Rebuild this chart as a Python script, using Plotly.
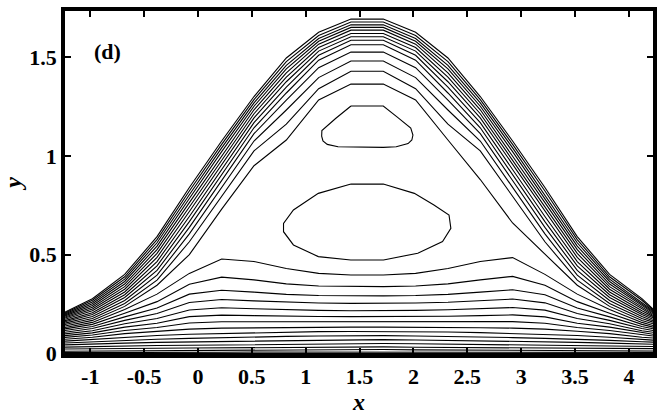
import plotly.graph_objects as go

# x positions shared by every open streamline
x_stations = [-1.234, -0.98, -0.68, -0.38, -0.08, 0.22, 0.52, 0.82, 1.12, 1.42,
              1.72, 2.02, 2.32, 2.62, 2.92, 3.22, 3.52, 3.82, 4.12, 4.223]

# streamlines passing over the crest, outermost (free surface) first
upper_streamlines = [
    [0.209, 0.277, 0.400, 0.591, 0.840, 1.075, 1.300, 1.495, 1.625, 1.692, 1.692, 1.625, 1.495, 1.300, 1.075, 0.840, 0.591, 0.400, 0.277, 0.225],
    [0.205, 0.269, 0.388, 0.576, 0.822, 1.058, 1.284, 1.477, 1.609, 1.677, 1.677, 1.609, 1.477, 1.284, 1.058, 0.822, 0.576, 0.388, 0.269, 0.221],
    [0.200, 0.260, 0.376, 0.560, 0.803, 1.040, 1.268, 1.458, 1.594, 1.663, 1.663, 1.594, 1.458, 1.268, 1.040, 0.803, 0.560, 0.376, 0.260, 0.216],
    [0.195, 0.251, 0.364, 0.543, 0.784, 1.021, 1.251, 1.440, 1.580, 1.650, 1.650, 1.580, 1.440, 1.251, 1.021, 0.784, 0.543, 0.364, 0.251, 0.210],
    [0.190, 0.243, 0.351, 0.525, 0.763, 1.000, 1.233, 1.420, 1.565, 1.636, 1.636, 1.565, 1.420, 1.233, 1.000, 0.763, 0.525, 0.351, 0.243, 0.205],
    [0.184, 0.234, 0.338, 0.506, 0.741, 0.978, 1.213, 1.398, 1.548, 1.619, 1.619, 1.548, 1.398, 1.213, 0.978, 0.741, 0.506, 0.338, 0.234, 0.199],
    [0.179, 0.225, 0.325, 0.486, 0.718, 0.955, 1.192, 1.375, 1.530, 1.603, 1.603, 1.530, 1.375, 1.192, 0.955, 0.718, 0.486, 0.325, 0.225, 0.193],
    [0.173, 0.216, 0.311, 0.465, 0.693, 0.930, 1.168, 1.348, 1.509, 1.585, 1.585, 1.509, 1.348, 1.168, 0.930, 0.693, 0.465, 0.311, 0.216, 0.187],
    [0.166, 0.206, 0.297, 0.443, 0.667, 0.903, 1.142, 1.318, 1.484, 1.562, 1.562, 1.484, 1.318, 1.142, 0.903, 0.667, 0.443, 0.297, 0.206, 0.180],
    [0.160, 0.197, 0.283, 0.420, 0.638, 0.873, 1.112, 1.282, 1.446, 1.525, 1.525, 1.446, 1.282, 1.112, 0.873, 0.638, 0.420, 0.283, 0.197, 0.173],
    [0.153, 0.187, 0.268, 0.396, 0.605, 0.838, 1.075, 1.232, 1.396, 1.480, 1.480, 1.396, 1.232, 1.075, 0.838, 0.605, 0.396, 0.268, 0.187, 0.165],
    [0.146, 0.177, 0.253, 0.371, 0.565, 0.795, 1.025, 1.160, 1.340, 1.428, 1.428, 1.340, 1.160, 1.025, 0.795, 0.565, 0.371, 0.253, 0.177, 0.158],
    [0.139, 0.167, 0.238, 0.345, 0.500, 0.730, 0.950, 1.080, 1.283, 1.363, 1.363, 1.283, 1.080, 0.880, 0.660, 0.500, 0.345, 0.238, 0.167, 0.150],
]

# streamlines passing underneath the eddies, top first, bed last
lower_streamlines = [
    [0.131, 0.157, 0.222, 0.300, 0.405, 0.478, 0.465, 0.430, 0.405, 0.397, 0.397, 0.405, 0.430, 0.465, 0.485, 0.400, 0.300, 0.222, 0.157, 0.141],
    [0.124, 0.147, 0.203, 0.262, 0.350, 0.386, 0.372, 0.352, 0.341, 0.338, 0.338, 0.341, 0.352, 0.372, 0.390, 0.345, 0.262, 0.203, 0.147, 0.133],
    [0.116, 0.136, 0.185, 0.230, 0.300, 0.320, 0.310, 0.299, 0.293, 0.291, 0.291, 0.293, 0.299, 0.310, 0.322, 0.297, 0.230, 0.185, 0.136, 0.125],
    [0.107, 0.126, 0.167, 0.202, 0.258, 0.273, 0.266, 0.259, 0.255, 0.253, 0.253, 0.255, 0.259, 0.266, 0.275, 0.256, 0.202, 0.167, 0.126, 0.116],
    [0.099, 0.115, 0.150, 0.177, 0.220, 0.231, 0.226, 0.221, 0.218, 0.216, 0.216, 0.218, 0.221, 0.226, 0.232, 0.219, 0.177, 0.150, 0.115, 0.107],
    [0.090, 0.104, 0.133, 0.153, 0.186, 0.194, 0.191, 0.188, 0.187, 0.186, 0.186, 0.187, 0.188, 0.191, 0.195, 0.185, 0.153, 0.133, 0.104, 0.097],
    [0.081, 0.093, 0.116, 0.131, 0.154, 0.160, 0.160, 0.160, 0.160, 0.160, 0.160, 0.160, 0.160, 0.160, 0.161, 0.153, 0.131, 0.116, 0.093, 0.088],
    [0.072, 0.082, 0.100, 0.112, 0.123, 0.128, 0.130, 0.132, 0.133, 0.133, 0.133, 0.133, 0.132, 0.130, 0.128, 0.123, 0.112, 0.100, 0.082, 0.078],
    [0.062, 0.071, 0.082, 0.091, 0.097, 0.101, 0.105, 0.108, 0.110, 0.111, 0.111, 0.110, 0.108, 0.105, 0.101, 0.097, 0.091, 0.082, 0.071, 0.067],
    [0.053, 0.059, 0.066, 0.072, 0.076, 0.080, 0.083, 0.086, 0.088, 0.090, 0.090, 0.088, 0.086, 0.083, 0.080, 0.076, 0.072, 0.066, 0.059, 0.057],
    [0.043, 0.048, 0.052, 0.056, 0.058, 0.061, 0.064, 0.066, 0.068, 0.070, 0.070, 0.068, 0.066, 0.064, 0.061, 0.058, 0.056, 0.052, 0.048, 0.046],
    [0.032, 0.035, 0.038, 0.040, 0.041, 0.043, 0.045, 0.047, 0.049, 0.050, 0.050, 0.049, 0.047, 0.045, 0.043, 0.041, 0.040, 0.038, 0.035, 0.035],
    [0.022, 0.024, 0.025, 0.026, 0.027, 0.028, 0.029, 0.030, 0.031, 0.033, 0.033, 0.031, 0.030, 0.029, 0.028, 0.027, 0.026, 0.025, 0.024, 0.024],
    [0.011, 0.012, 0.013, 0.013, 0.014, 0.015, 0.016, 0.017, 0.018, 0.020, 0.020, 0.018, 0.017, 0.016, 0.015, 0.014, 0.013, 0.013, 0.012, 0.012],
    [0.004, 0.005, 0.005, 0.006, 0.006, 0.006, 0.007, 0.007, 0.008, 0.008, 0.008, 0.008, 0.007, 0.007, 0.006, 0.006, 0.006, 0.005, 0.005, 0.005],
    [0.000, 0.000, 0.000, 0.000, 0.000, 0.000, 0.000, 0.000, 0.000, 0.000, 0.000, 0.000, 0.000, 0.000, 0.000, 0.000, 0.000, 0.000, 0.000, 0.000],
]

# closed streamline of the upper eddy
upper_eddy_x = [1.42, 1.72, 1.85, 1.975, 1.995, 1.985, 1.95, 1.84, 1.72, 1.42, 1.30, 1.20, 1.16, 1.148, 1.15, 1.28, 1.42]
upper_eddy_y = [1.252, 1.252, 1.196, 1.14, 1.105, 1.08, 1.062, 1.046, 1.043, 1.043, 1.046, 1.058, 1.075, 1.10, 1.128, 1.19, 1.252]

# closed streamline of the lower eddy
lower_eddy_x = [1.42, 1.72, 2.008, 2.19, 2.33, 2.347, 2.27, 2.04, 1.722, 1.418, 1.117, 0.886, 0.794, 0.794, 0.886, 1.117, 1.42]
lower_eddy_y = [0.857, 0.857, 0.81, 0.751, 0.70, 0.633, 0.566, 0.507, 0.473, 0.473, 0.49, 0.549, 0.616, 0.658, 0.726, 0.81, 0.857]

x_ticks = [-1, -0.5, 0, 0.5, 1, 1.5, 2, 2.5, 3, 3.5, 4]
x_tick_text = ["-1", "-0.5", "0", "0.5", "1", "1.5", "2", "2.5", "3", "3.5", "4"]
y_ticks = [0, 0.5, 1, 1.5]
y_tick_text = ["0", "0.5", "1", "1.5"]

LINE = dict(color="black", width=1.1)
SERIF = "Liberation Serif"

fig = go.Figure()
for row in upper_streamlines + lower_streamlines:
    fig.add_trace(go.Scatter(x=x_stations, y=row, mode="lines", line=LINE,
                             hoverinfo="skip", showlegend=False))
fig.add_trace(go.Scatter(x=upper_eddy_x, y=upper_eddy_y, mode="lines", line=LINE,
                         hoverinfo="skip", showlegend=False))
fig.add_trace(go.Scatter(x=lower_eddy_x, y=lower_eddy_y, mode="lines", line=LINE,
                         hoverinfo="skip", showlegend=False))

axis_common = dict(
    showline=True, linecolor="black", linewidth=3.5, mirror="ticks",
    ticks="inside", ticklen=6, tickwidth=2, tickcolor="black",
    showgrid=False, zeroline=False,
    tickfont=dict(family=SERIF, size=22, color="black", weight="bold"),
)
fig.update_xaxes(range=[-1.234, 4.223], tickvals=x_ticks, ticktext=x_tick_text,
                 title=dict(text="<i>x</i>", font=dict(family=SERIF, size=24, color="black", weight="bold"),
                            standoff=0),
                 **axis_common)
fig.update_yaxes(range=[-0.003, 1.733], tickvals=y_ticks, ticktext=y_tick_text,
                 title=dict(text="<i>y</i>", font=dict(family=SERIF, size=24, color="black", weight="bold"),
                            standoff=6),
                 **axis_common)

fig.add_annotation(x=-0.84, y=1.53, xref="x", yref="y", text="(d)", showarrow=False,
                   font=dict(family=SERIF, size=22, color="black", weight="bold"))

fig.update_layout(width=670, height=415, margin=dict(l=62, r=17, t=7, b=61),
                  plot_bgcolor="white", paper_bgcolor="white")

fig.write_html("out.html")
